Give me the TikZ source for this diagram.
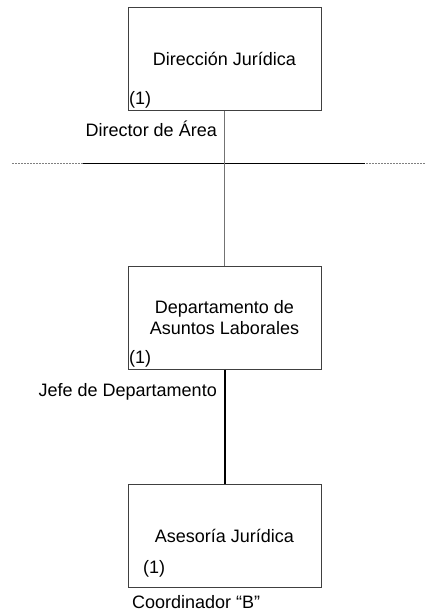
\documentclass[tikz,border=0pt]{standalone}
\usepackage{fontspec}
\setmainfont{Liberation Sans}
\begin{document}
\begin{tikzpicture}[x=1pt,y=-1pt,
  unit/.style={draw=black!75,line width=1pt,minimum width=193pt,minimum height=103pt,inner sep=0pt,align=center,font=\fontsize{18}{20.7}\selectfont},
  lbl/.style={inner sep=0pt,font=\fontsize{18}{20.7}\selectfont},
  note/.style={inner sep=0pt,font=\fontsize{18}{20.7}\selectfont}]
\useasboundingbox (0,0) rectangle (425,614);
\node[unit] (dj) at (224.5,58.5) {Dirección Jurídica};
\node[unit] (dal) at (224.5,317.5) {Departamento de\\Asuntos Laborales};
\node[unit] (aj) at (224.5,536) {Asesoría Jurídica};
\node[note,anchor=south west] (n1) at (129,108.5) {(1)};
\node[note,anchor=south west] (n2) at (129,367.5) {(1)};
\node[note,anchor=south west] (n3) at (143,577) {(1)};
\node[lbl,anchor=base east] (l1) at (217,136.5) {Director de Área};
\node[lbl,anchor=base east] (l2) at (217,396.5) {Jefe de Departamento};
\node[lbl,anchor=base west] (l3) at (132,608.5) {Coordinador “B”};
\coordinate (dl) at (12,163);
\coordinate (dr) at (425,163);
\coordinate (sl) at (83,163);
\coordinate (sr) at (365,163);
\draw[black!50,line width=1pt,dash pattern=on 2pt off 1pt] (dl) -- (dr);
\draw[black,line width=1pt] (sl) -- (sr);
\draw[black!55,line width=1.1pt] (dj.south) -- (dal.north);
\draw[black,line width=2.1pt] ([xshift=0.5pt]dal.south) -- ([xshift=0.5pt]aj.north);
\end{tikzpicture}
\end{document}
